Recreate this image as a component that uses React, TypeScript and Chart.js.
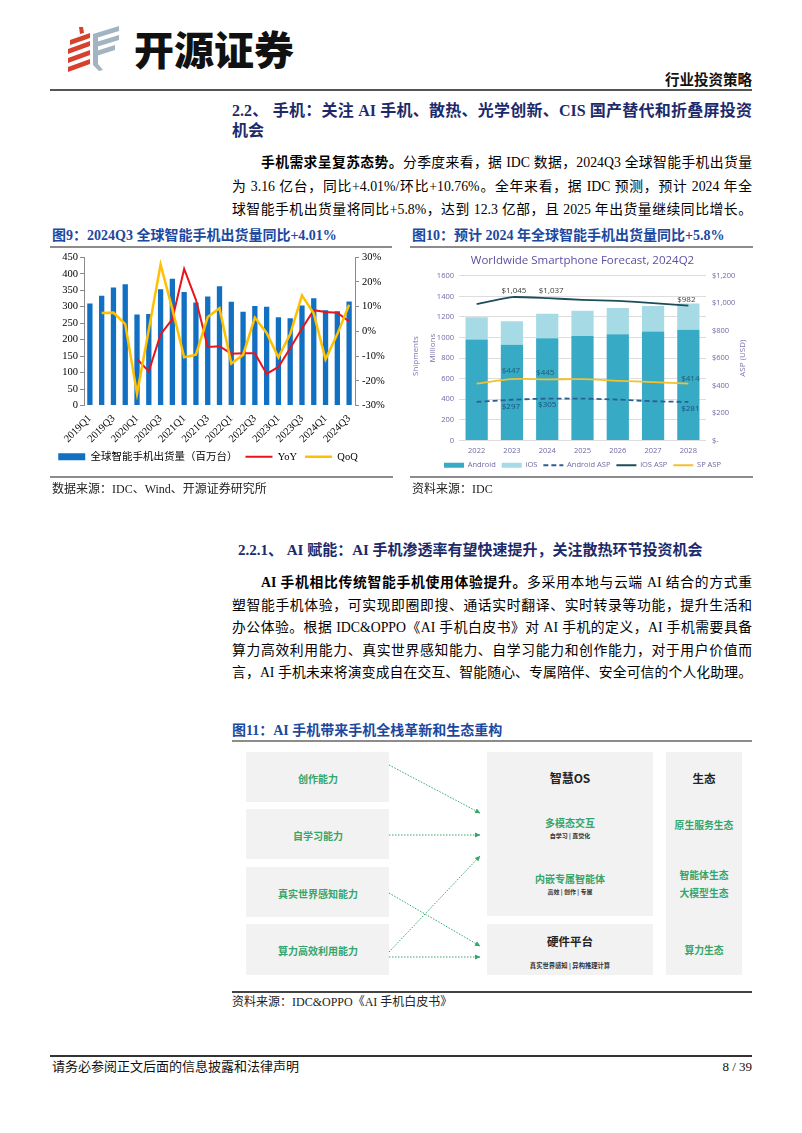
import React, { useEffect, useRef } from 'react';
import { Chart, registerables } from 'chart.js';

Chart.register(...registerables);

// ---------- Figure 9 data ----------
const quarters = ['2019Q1','2019Q2','2019Q3','2019Q4','2020Q1','2020Q2','2020Q3','2020Q4','2021Q1','2021Q2','2021Q3','2021Q4','2022Q1','2022Q2','2022Q3','2022Q4','2023Q1','2023Q2','2023Q3','2023Q4','2024Q1','2024Q2','2024Q3'];
const shipments = [310,333,358,368,276,278,353,385,345,313,331,362,315,285,302,300,268,265,304,326,289,286,316];
const yoy = [null,null,null,null,-11.2,-16.2,-1.2,5.0,25.3,12.8,-6.3,-6.0,-9.0,-8.8,-8.8,-17.2,-14.4,-6.8,1.2,8.6,7.9,7.6,4.0];
const qoq = [null,7.4,7.6,3.0,-25.2,0.7,27.1,9.0,-10.5,-9.4,5.8,9.4,-13.0,-9.5,5.6,-0.6,-10.5,-1.1,14.6,7.2,-11.3,-1.1,10.8];
const yTicks9 = { min: 0, max: 450, step: 50 };
const y1Ticks9 = { min: -30, max: 30, step: 10 };

// ---------- Figure 10 data ----------
const years = ['2022','2023','2024','2025','2026','2027','2028'];
const android = [980, 929, 993, 1016, 1032, 1058, 1077];
const ios = [217, 229, 239, 245, 255, 248, 255];
const androidAsp = [281, 297, 305, 305, 298, 286, 281];
const iosAsp = [994, 1045, 1037, 1025, 1018, 1001, 982];
const spAsp = [414, 447, 445, 447, 435, 426, 414];
const yTicks10 = { min: 0, max: 1600, step: 200 };
const y1Ticks10 = { min: 0, max: 1200, step: 200 };

const serif = '"Liberation Serif", "Noto Sans CJK SC", serif';
const cjk = '"Noto Sans CJK SC", "Noto Sans", sans-serif';
const sans10 = '"Open Sans", "Noto Sans", sans-serif';

const fmtUsd = (v: number) => (v === 0 ? '$-' : '$' + v.toLocaleString('en-US'));

function legendItems(chart: any) {
  return chart.data.datasets.map((ds: any, i: number) => {
    const isLine = ds.type === 'line';
    return {
      text: ds.label,
      datasetIndex: i,
      hidden: false,
      fillStyle: isLine ? ds.borderColor : ds.backgroundColor,
      strokeStyle: isLine ? ds.borderColor : ds.backgroundColor,
      lineWidth: isLine ? ds.borderWidth : 0,
      lineDash: ds.borderDash || [],
      pointStyle: isLine ? 'line' : 'rect',
      rotation: 0,
      fontColor: chart.options.plugins.legend.labels.color,
    };
  });
}

const legendShift = {
  id: 'legendShift',
  afterLayout(chart: any, _a: any, opts: any) {
    const lg = chart.legend;
    if (lg && opts && opts.dx) {
      lg.left += opts.dx;
      lg.right += opts.dx;
    }
  },
};

const pointLabels = {
  id: 'pointLabels',
  afterDatasetsDraw(chart: any, _a: any, opts: any) {
    const ctx = chart.ctx;
    ctx.save();
    ctx.font = `${opts.size}px ${opts.family}`;
    ctx.textAlign = 'center';
    ctx.textBaseline = 'middle';
    (opts.items || []).forEach((it: any) => {
      const meta = chart.getDatasetMeta(it.ds);
      const pt = meta.data[it.idx];
      const v = chart.data.datasets[it.ds].data[it.idx];
      ctx.fillStyle = it.color;
      ctx.fillText(fmtUsd(v), pt.x + it.dx, pt.y + it.dy);
    });
    ctx.restore();
  },
};

const axisTitles = {
  id: 'axisTitles',
  afterDraw(chart: any, _a: any, opts: any) {
    const ctx = chart.ctx;
    const { top, bottom } = chart.chartArea;
    const cy = (top + bottom) / 2;
    ctx.save();
    ctx.font = `${opts.size}px ${opts.family}`;
    ctx.fillStyle = opts.color;
    ctx.textAlign = 'center';
    ctx.textBaseline = 'middle';
    (opts.items || []).forEach((it: any) => {
      ctx.save();
      ctx.translate(it.x, cy + (it.dy || 0));
      ctx.rotate(-Math.PI / 2);
      ctx.fillText(it.text, 0, 0);
      ctx.restore();
    });
    ctx.restore();
  },
};

function Chart9() {
  const ref = useRef<HTMLCanvasElement>(null);
  useEffect(() => {
    const tickFont = { family: serif, size: 10.5 };
    const chart = new Chart(ref.current as HTMLCanvasElement, {
      type: 'bar',
      data: {
        labels: quarters,
        datasets: [
          { type: 'bar', label: '全球智能手机出货量（百万台）', data: shipments, backgroundColor: '#1170c2', yAxisID: 'y', barPercentage: 0.45, categoryPercentage: 1, order: 2 } as any,
          { type: 'line', label: 'YoY', data: yoy, borderColor: '#e8141b', backgroundColor: '#e8141b', borderWidth: 2, pointRadius: 0, yAxisID: 'y1', order: 1 } as any,
          { type: 'line', label: 'QoQ', data: qoq, borderColor: '#ffc000', backgroundColor: '#ffc000', borderWidth: 2.5, pointRadius: 0, yAxisID: 'y1', order: 0 } as any,
        ],
      },
      options: {
        animation: false,
        responsive: false,
        layout: { padding: { top: 1, left: 0, right: 0, bottom: 0 } },
        plugins: {
          tooltip: { enabled: false },
          legendShift: { dx: -14 },
          legend: {
            position: 'bottom',
            labels: {
              usePointStyle: true,
              pointStyleWidth: 27,
              boxHeight: 7,
              padding: 8,
              color: '#000',
              font: { family: serif, size: 10.5 },
              generateLabels: legendItems,
            },
          },
        } as any,
        scales: {
          x: {
            grid: { display: false, drawTicks: false },
            border: { display: false },
            ticks: {
              autoSkip: false, maxRotation: 45, minRotation: 45, padding: 7,
              font: tickFont, color: '#000',
              callback: (_v: any, i: number) => (i % 2 === 0 ? quarters[i] : ''),
            },
            afterFit: (s: any) => { s.height = 38; },
          },
          y: {
            position: 'left', min: yTicks9.min, max: yTicks9.max,
            ticks: { stepSize: yTicks9.step, font: tickFont, color: '#000', padding: 2 },
            grid: { display: true, drawOnChartArea: false, tickLength: 4, color: '#8a8a8a' },
            border: { display: true, color: '#8a8a8a' },
            afterFit: (s: any) => { s.width = 32; },
          },
          y1: {
            position: 'right', min: y1Ticks9.min, max: y1Ticks9.max,
            ticks: { stepSize: y1Ticks9.step, font: tickFont, color: '#000', padding: 3, callback: (v: any) => v + '%' },
            grid: { display: true, drawOnChartArea: false, tickLength: 4, color: '#8a8a8a' },
            border: { display: true, color: '#8a8a8a' },
            afterFit: (s: any) => { s.width = 37; },
          },
        } as any,
      },
      plugins: [legendShift],
    });
    return () => chart.destroy();
  }, []);
  return <canvas ref={ref} width={340} height={224} style={{ position: 'absolute', left: 52, top: 248, width: 340, height: 224 }} />;
}

function Chart10() {
  const ref = useRef<HTMLCanvasElement>(null);
  useEffect(() => {
    const tickFont = { family: sans10, size: 7.5 };
    const tickColor = '#6e6aa3';
    const chart = new Chart(ref.current as HTMLCanvasElement, {
      type: 'bar',
      data: {
        labels: years,
        datasets: [
          { type: 'bar', label: 'Android', data: android, backgroundColor: '#37aac5', stack: 's', yAxisID: 'y', barPercentage: 0.63, categoryPercentage: 1, order: 4 } as any,
          { type: 'bar', label: 'iOS', data: ios, backgroundColor: '#a6dbe5', stack: 's', yAxisID: 'y', barPercentage: 0.63, categoryPercentage: 1, order: 5 } as any,
          { type: 'line', label: 'Android ASP', data: androidAsp, borderColor: '#2d5f90', borderDash: [5, 3], borderWidth: 1.8, pointRadius: 0, tension: 0.3, yAxisID: 'y1', order: 2 } as any,
          { type: 'line', label: 'iOS ASP', data: iosAsp, borderColor: '#1d4d5b', borderWidth: 1.8, pointRadius: 0, tension: 0.15, yAxisID: 'y1', order: 1 } as any,
          { type: 'line', label: 'SP ASP', data: spAsp, borderColor: '#f4c12c', borderWidth: 1.8, pointRadius: 0, tension: 0.3, yAxisID: 'y1', order: 0 } as any,
        ],
      },
      options: {
        animation: false,
        responsive: false,
        layout: { padding: 0 },
        plugins: {
          tooltip: { enabled: false },
          title: {
            display: true,
            text: 'Worldwide Smartphone Forecast, 2024Q2',
            color: '#5a4fa3',
            font: { family: sans10, size: 11.5, weight: 'normal' },
            padding: { top: 6, bottom: 8 },
          },
          legend: {
            position: 'bottom',
            labels: {
              usePointStyle: true,
              pointStyleWidth: 20,
              boxHeight: 5,
              padding: 6,
              color: '#6e6aa3',
              font: { family: sans10, size: 7.5 },
              generateLabels: legendItems,
            },
          },
          pointLabels: {
            size: 8, family: sans10,
            items: [
              { ds: 3, idx: 1, dx: 2, dy: -6, color: '#3d3d3d' },
              { ds: 3, idx: 2, dx: 4, dy: -7, color: '#3d3d3d' },
              { ds: 3, idx: 6, dx: -2, dy: -6, color: '#3d3d3d' },
              { ds: 4, idx: 1, dx: -1, dy: -8, color: '#1f5c73' },
              { ds: 4, idx: 2, dx: -2, dy: -7, color: '#1f5c73' },
              { ds: 4, idx: 6, dx: 2, dy: -5, color: '#1f5c73' },
              { ds: 2, idx: 1, dx: -1, dy: 7, color: '#1f4e80' },
              { ds: 2, idx: 2, dx: 0, dy: 6, color: '#1f4e80' },
              { ds: 2, idx: 6, dx: 2, dy: 7, color: '#1f4e80' },
            ],
          },
          axisTitles: {
            size: 8, family: sans10, color: '#7a76ad',
            items: [
              { text: 'Shipments', x: 6, dy: -2 },
              { text: 'Millions', x: 23, dy: -10 },
              { text: 'ASP (USD)', x: 333, dy: 0 },
            ],
          },
        } as any,
        scales: {
          x: {
            stacked: true,
            grid: { display: false, drawTicks: false },
            border: { display: false },
            ticks: { padding: 6, font: tickFont, color: tickColor },
            afterFit: (s: any) => { s.height = 15; },
          },
          y: {
            stacked: true, position: 'left', min: yTicks10.min, max: yTicks10.max,
            ticks: { stepSize: yTicks10.step, font: tickFont, color: tickColor, padding: 5, callback: (v: any) => String(v) },
            grid: { color: '#dddddd', drawTicks: false },
            border: { display: false },
            afterFit: (s: any) => { s.width = 49; },
          },
          y1: {
            position: 'right', min: y1Ticks10.min, max: y1Ticks10.max,
            ticks: { stepSize: y1Ticks10.step, font: tickFont, color: tickColor, padding: 6, callback: (v: any) => fmtUsd(Number(v)) },
            grid: { display: false, drawTicks: false },
            border: { display: false },
            afterFit: (s: any) => { s.width = 49; },
          },
        } as any,
      },
      plugins: [pointLabels, axisTitles],
    });
    return () => chart.destroy();
  }, []);
  return <canvas ref={ref} width={345} height={231} style={{ position: 'absolute', left: 410, top: 248, width: 345, height: 231 }} />;
}

type TxtProps = {
  x: number; y: number; w?: number; size: number; children: React.ReactNode;
  weight?: number; color?: string; align?: 'left' | 'center' | 'right'; justify?: boolean; font?: string;
};
function Txt({ x, y, w = 600, size, children, weight = 400, color = '#000', align = 'left', justify = false, font = serif }: TxtProps) {
  const lh = Math.round(size * 1.5);
  return (
    <div
      style={{
        position: 'absolute', left: x, top: y - lh / 2, width: w, height: lh,
        fontSize: size, lineHeight: `${lh}px`, fontFamily: font, fontWeight: weight, color,
        textAlign: justify ? 'justify' : align, textAlignLast: justify ? 'justify' : align,
        whiteSpace: 'nowrap',
      } as React.CSSProperties}
    >
      {children}
    </div>
  );
}

const Rule = ({ x, y, w, h = 1.5, c = '#8c8c8c' }: { x: number; y: number; w: number; h?: number; c?: string }) => (
  <div style={{ position: 'absolute', left: x, top: y, width: w, height: h, background: c }} />
);

const Box = ({ x, y, w, h }: { x: number; y: number; w: number; h: number }) => (
  <div style={{ position: 'absolute', left: x, top: y, width: w, height: h, background: '#f2f2f2' }} />
);

const navy = '#1c2a6c';
const figBlue = '#1b48a0';
const green = '#34a56b';
const bodySize = 13.8;

export default function App() {
  const c = (cx: number, w: number) => cx - w / 2;
  return (
    <div style={{ position: 'absolute', left: 0, top: 0, width: 802, height: 1133, background: '#fff', overflow: 'hidden' }}>
      <svg width={802} height={1133} style={{ position: 'absolute', left: 0, top: 0 }}>
        <defs>
          <marker id="ah" markerWidth="6" markerHeight="6" refX="5" refY="3" orient="auto" markerUnits="userSpaceOnUse">
            <path d="M0,0.5 L5.5,3 L0,5.5 z" fill={green} />
          </marker>
        </defs>
        <g fill="#d8402e">
          <path d="M79,27 L83,27 L84,33 L80,34 Z" />
          <path d="M70,40 L90,33 L90,38 L70,45 Z" />
          <path d="M68,49 L90,41 L90,46 L68,54 Z" />
          <path d="M68,58 L90,50 L90,55 L68,63 Z" />
          <path d="M68,67 L90,59 L90,64 L68,72 Z" />
        </g>
        <g fill="#a2b4c1">
          <path d="M93,34 L119,26 L119,31 L93,39 Z" />
          <path d="M93,43 L119,35 L119,40 L93,48 Z" />
          <path d="M93,52 L115,45 L115,50 L93,57 Z" />
          <path d="M93,34 L98,34 L98,64 L103,70 L99,71 L93,65 Z" />
        </g>
        <g stroke={green} strokeWidth={1} strokeDasharray="1.5 1.5" fill="none">
          <line x1={389} y1={765} x2={480} y2={813} markerEnd="url(#ah)" />
          <line x1={389} y1={835} x2={480} y2={835} markerEnd="url(#ah)" />
          <line x1={389} y1={893} x2={480} y2={946} markerEnd="url(#ah)" />
          <line x1={389} y1={952} x2={480} y2={856} markerEnd="url(#ah)" />
          <line x1={389} y1={957} x2={480} y2={957} markerEnd="url(#ah)" />
        </g>
      </svg>
      <Txt x={134} y={48} size={40} weight={900} font={cjk} color="#111">开源证券</Txt>
      <Txt x={552} y={80} w={200} size={14.5} weight={700} align="right" font={serif} color="#111">行业投资策略</Txt>
      <Rule x={50} y={89} w={702} h={2} c="#555" />

      <Txt x={232} y={111} w={520} size={16} weight={700} color={navy} justify>2.2、 手机：关注 AI 手机、散热、光学创新、CIS 国产替代和折叠屏投资</Txt>
      <Txt x={232} y={131} w={520} size={16} weight={700} color={navy}>机会</Txt>

      <Txt x={261} y={162} w={491} size={bodySize} justify><b>手机需求呈复苏态势。</b>分季度来看，据 IDC 数据，2024Q3 全球智能手机出货量</Txt>
      <Txt x={232} y={186} w={520} size={bodySize} justify>为 3.16 亿台，同比+4.01%/环比+10.76%。全年来看，据 IDC 预测，预计 2024 年全</Txt>
      <Txt x={232} y={209} w={520} size={bodySize} justify>球智能手机出货量将同比+5.8%，达到 12.3 亿部，且 2025 年出货量继续同比增长。</Txt>

      <Txt x={52} y={235} size={14} weight={700} color={figBlue}>图9：2024Q3 全球智能手机出货量同比+4.01%</Txt>
      <Txt x={412} y={235} size={14} weight={700} color={figBlue}>图10：预计 2024 年全球智能手机出货量同比+5.8%</Txt>
      <Rule x={50} y={246} w={342} />
      <Rule x={410} y={246} w={343} />

      <Chart9 />
      <Chart10 />

      <Rule x={50} y={476} w={343} />
      <Rule x={410} y={476} w={343} />
      <Txt x={52} y={489} size={12} color="#222">数据来源：IDC、Wind、开源证券研究所</Txt>
      <Txt x={412} y={489} size={12} color="#222">资料来源：IDC</Txt>

      <Txt x={238} y={550} size={15} weight={700} color={navy}>2.2.1、 AI 赋能：AI 手机渗透率有望快速提升，关注散热环节投资机会</Txt>

      <Txt x={261} y={582} w={491} size={bodySize} justify><b>AI 手机相比传统智能手机使用体验提升。</b>多采用本地与云端 AI 结合的方式重</Txt>
      <Txt x={232} y={605} w={520} size={bodySize} justify>塑智能手机体验，可实现即圈即搜、通话实时翻译、实时转录等功能，提升生活和</Txt>
      <Txt x={232} y={627} w={520} size={bodySize} justify>办公体验。根据 IDC&amp;OPPO《AI 手机白皮书》对 AI 手机的定义，AI 手机需要具备</Txt>
      <Txt x={232} y={650} w={520} size={bodySize} justify>算力高效利用能力、真实世界感知能力、自学习能力和创作能力，对于用户价值而</Txt>
      <Txt x={232} y={672} w={520} size={bodySize} justify>言，AI 手机未来将演变成自在交互、智能随心、专属陪伴、安全可信的个人化助理。</Txt>

      <Txt x={232} y={730} size={14} weight={700} color={figBlue}>图11：AI 手机带来手机全栈革新和生态重构</Txt>
      <Rule x={232} y={740} w={520} />

      <Box x={246} y={752} w={143} h={50} />
      <Box x={246} y={809} w={143} h={50} />
      <Box x={246} y={867} w={143} h={50} />
      <Box x={246} y={924} w={143} h={51} />
      <Box x={487} y={752} w={166} h={164} />
      <Box x={487} y={924} w={166} h={51} />
      <Box x={666} y={752} w={76} h={223} />

      <Txt x={c(318, 140)} y={778} w={140} size={10} weight={700} color={green} font={cjk} align="center">创作能力</Txt>
      <Txt x={c(318, 140)} y={835} w={140} size={10} weight={700} color={green} font={cjk} align="center">自学习能力</Txt>
      <Txt x={c(318, 140)} y={893} w={140} size={10} weight={700} color={green} font={cjk} align="center">真实世界感知能力</Txt>
      <Txt x={c(318, 140)} y={950} w={140} size={10} weight={700} color={green} font={cjk} align="center">算力高效利用能力</Txt>

      <Txt x={c(570, 160)} y={778} w={160} size={12} weight={700} color="#222" font={cjk} align="center">智慧OS</Txt>
      <Txt x={c(570, 160)} y={822} w={160} size={10} weight={700} color={green} font={cjk} align="center">多模态交互</Txt>
      <Txt x={c(570, 160)} y={835} w={160} size={6} weight={700} color="#333" font={cjk} align="center">自学习 | 直觉化</Txt>
      <Txt x={c(570, 160)} y={878} w={160} size={10} weight={700} color={green} font={cjk} align="center">内嵌专属智能体</Txt>
      <Txt x={c(570, 160)} y={891} w={160} size={6} weight={700} color="#333" font={cjk} align="center">高效 | 创作 | 专属</Txt>
      <Txt x={c(570, 160)} y={941} w={160} size={11.5} weight={700} color="#222" font={cjk} align="center">硬件平台</Txt>
      <Txt x={c(570, 160)} y={965} w={160} size={6.3} weight={700} color="#333" font={cjk} align="center">真实世界感知 | 异构推理计算</Txt>

      <Txt x={c(704, 76)} y={778} w={76} size={11.5} weight={700} color="#222" font={cjk} align="center">生态</Txt>
      <Txt x={c(704, 76)} y={825} w={76} size={9.8} weight={700} color={green} font={cjk} align="center">原生服务生态</Txt>
      <Txt x={c(704, 76)} y={875} w={76} size={9.8} weight={700} color={green} font={cjk} align="center">智能体生态</Txt>
      <Txt x={c(704, 76)} y={893} w={76} size={9.8} weight={700} color={green} font={cjk} align="center">大模型生态</Txt>
      <Txt x={c(704, 76)} y={950} w={76} size={9.8} weight={700} color={green} font={cjk} align="center">算力生态</Txt>

      <Rule x={232} y={991} w={520} c="#444" />
      <Txt x={232} y={1002} size={12} color="#222">资料来源：IDC&amp;OPPO《AI 手机白皮书》</Txt>

      <Rule x={50} y={1055} w={702} h={2} c="#333" />
      <Txt x={52} y={1067} size={13} color="#111">请务必参阅正文后面的信息披露和法律声明</Txt>
      <Txt x={552} y={1067} w={200} size={13} color="#111" align="right">8 / 39</Txt>
    </div>
  );
}
